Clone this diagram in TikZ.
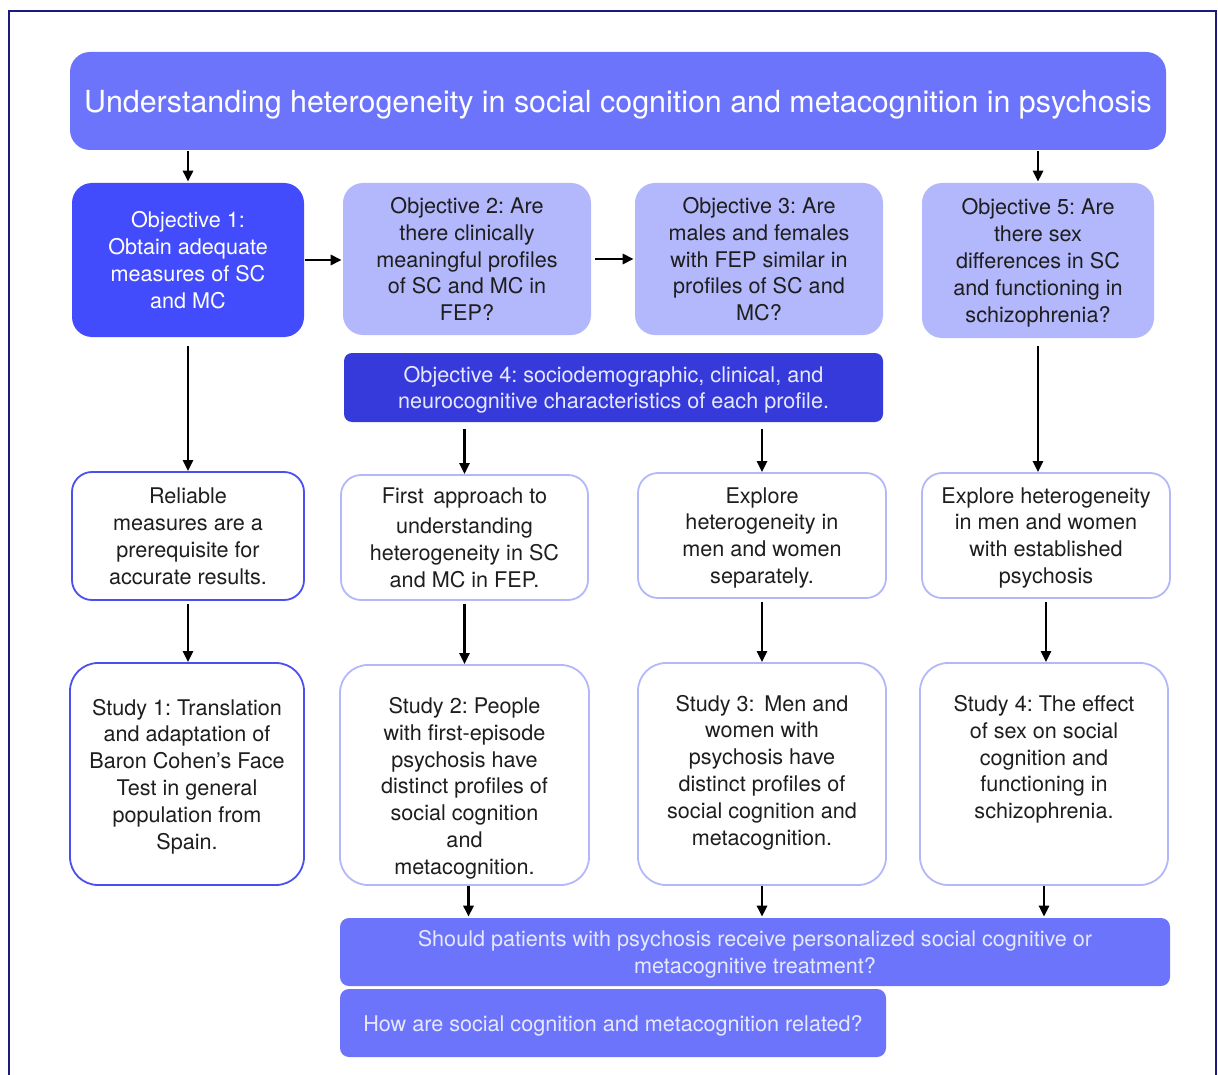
\documentclass[tikz,border=0pt]{standalone}
\usepackage{fontspec}
\setmainfont{TeX Gyre Heros}
\usepackage{xcolor}
\usetikzlibrary{positioning,arrows.meta}
\frenchspacing

\definecolor{titleblue}{HTML}{6B74FB}
\definecolor{objdark}{HTML}{434CFC}
\definecolor{objlight}{HTML}{B3B7FB}
\definecolor{objfour}{HTML}{373ADB}
\definecolor{framenavy}{HTML}{1C1A7A}
\definecolor{edgedark}{HTML}{4A50F0}
\definecolor{edgelight}{HTML}{B3B8FA}
\definecolor{inkgrey}{HTML}{1E1E1E}
\definecolor{palewhite}{HTML}{E6E8FF}

\begin{document}
\begin{tikzpicture}[
    x=1pt, y=-1pt,
    ->,
    >={Triangle[length=11pt,width=10pt]},
    line width=2.6pt
]

\tikzstyle{box}=[
    rectangle,
    draw=none,
    align=center,
    inner sep=0pt,
    text depth=0pt,
    text=inkgrey,
    font=\fontsize{21.6}{26.8}\selectfont
]
\tikzstyle{objdk}=[box, fill=objdark, text=white, rounded corners=20pt]
\tikzstyle{objlt}=[box, fill=objlight, rounded corners=20pt]
\tikzstyle{band}=[box, fill=titleblue, text=palewhite, rounded corners=9pt]
\tikzstyle{whitebox}=[box, fill=white, draw=edgelight, line width=1.8pt, rounded corners=20pt]
\tikzstyle{studybox}=[whitebox, rounded corners=28pt]

\useasboundingbox (0,0) rectangle (1218,1075);
\draw[-, framenavy, line width=2pt] (9,11) rectangle (1216,1095);

% title
\node[band, text=white, rounded corners=20pt, minimum width=1096pt, minimum height=98pt,
    font=\fontsize{30.4}{36}\selectfont] (title) at (618,101)
    {Understanding heterogeneity in social cognition and metacognition in psychosis};

% objectives
\node[objdk, minimum width=232pt, minimum height=154pt] (obj1) at (188,260)
    {Objective 1:\\Obtain adequate\\measures of SC\\and MC};
\node[objlt, minimum width=248pt, minimum height=152pt] (obj2) at (467,259)
    {Objective 2: Are\\there clinically\\meaningful profiles\\of SC and MC in\\FEP?};
\node[objlt, minimum width=248pt, minimum height=152pt] (obj3) at (759,259)
    {Objective 3: Are\\males and females\\with FEP similar in\\profiles of SC and\\MC?};
\node[objlt, minimum width=232pt, minimum height=155pt] (obj5) at (1038,260.5)
    {Objective 5: Are\\there sex\\differences in SC\\and functioning in\\schizophrenia?};
\node[box, fill=objfour, text=palewhite, rounded corners=8pt,
    minimum width=539pt, minimum height=69pt] (obj4) at (613.5,387.5)
    {Objective 4: sociodemographic, clinical, and\\neurocognitive characteristics of each profile.};

% rationale
\node[whitebox, draw=edgedark, minimum width=232pt, minimum height=128pt] (rel) at (188,536)
    {Reliable\\measures are a\\prerequisite for\\accurate results.};
\node[whitebox, minimum width=247pt, minimum height=125pt] (rapp) at (464.5,537.5)
    {First\, approach to\\[3pt]understanding\\heterogeneity in SC\\and MC in FEP.};
\node[whitebox, minimum width=248pt, minimum height=125pt] (rexp) at (762,535.5)
    {Explore\\heterogeneity in\\men and women\\separately.};
\node[whitebox, minimum width=248pt, minimum height=125pt] (rest) at (1046,535.5)
    {Explore heterogeneity\\in men and women\\with established\\psychosis};

% studies
\node[studybox, draw=edgedark, minimum width=234pt, minimum height=222pt] (st1) at (187,774)
    {Study 1: Translation\\and adaptation of\\Baron Cohen's Face\\Test in general\\population from\\Spain.};
\node[studybox, minimum width=249pt, minimum height=220pt] (st2) at (464.5,775)
    {\mbox{}\\[11pt]Study 2: People\\with first-episode\\psychosis have\\distinct profiles of\\social cognition\\and\\metacognition.};
\node[studybox, minimum width=248pt, minimum height=222pt] (st3) at (762,774)
    {Study 3:\, Men and\\women with\\psychosis have\\distinct profiles of\\social cognition and\\metacognition.\\[-19pt]\mbox{}};
\node[studybox, minimum width=248pt, minimum height=222pt] (st4) at (1044,774)
    {Study 4: The effect\\of sex on social\\cognition and\\functioning in\\schizophrenia.\\[7pt]\mbox{}};

% questions
\node[band, minimum width=830pt, minimum height=68pt] (q1) at (755,952)
    {Should patients with psychosis receive personalized social cognitive or\\metacognitive treatment?};
\node[band, minimum width=546pt, minimum height=68pt] (q2) at (613,1023)
    {How are social cognition and metacognition related?};

% arrows
\draw (title.south -| obj1.north) -- (obj1.north);
\draw (title.south -| obj5.north) -- (obj5.north);
\draw (obj1.east) -- (obj1.east -| obj2.west);
\draw[shorten <=3pt] (obj2.east) -- (obj2.east -| obj3.west);
\draw[shorten <=8pt] (obj1.south) -- (rel.north);
\draw[shorten <=6pt] (obj4.south -| rapp.north) -- (rapp.north);
\draw[shorten <=6pt] (obj4.south -| rexp.north) -- (rexp.north);
\draw[shorten <=7pt] (obj5.south) -- (obj5.south |- rest.north);
\draw[shorten <=3pt] (rel.south) -- (rel.south |- st1.north);
\draw[shorten <=3pt] (rapp.south) -- (st2.north);
\draw[shorten <=3pt] (rexp.south) -- (st3.north);
\draw[shorten <=3pt] (rest.south) -- (rest.south |- st4.north);
\draw ([xshift=4pt]st2.south) -- ([xshift=4pt]st2.south |- q1.north);
\draw (st3.south) -- (st3.south |- q1.north);
\draw (st4.south) -- (st4.south |- q1.north);

\end{tikzpicture}
\end{document}
